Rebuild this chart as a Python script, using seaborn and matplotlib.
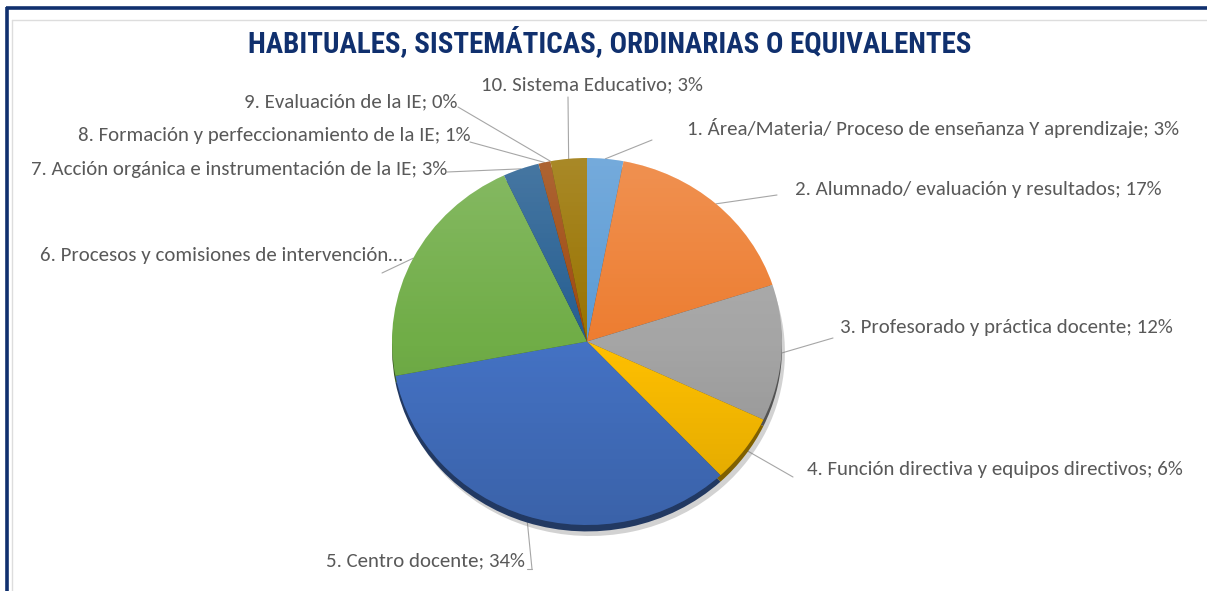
import matplotlib
matplotlib.use("Agg")
import matplotlib.pyplot as plt
import matplotlib.font_manager as fm
from matplotlib.patches import Circle
import numpy as np
import seaborn as sns

# chart data
title = "HABITUALES, SISTEMÁTICAS, ORDINARIAS O EQUIVALENTES"
categories = [
    "1. Área/Materia/ Proceso de enseñanza Y aprendizaje",
    "2. Alumnado/ evaluación y resultados",
    "3. Profesorado y práctica docente",
    "4. Función directiva y equipos directivos",
    "5. Centro docente",
    "6. Procesos y comisiones de intervención",
    "7. Acción orgánica e instrumentación de la IE",
    "8. Formación y perfeccionamiento de la IE",
    "9. Evaluación de la IE",
    "10. Sistema Educativo",
]
percent = [3, 17, 12, 6, 34, 21, 3, 1, 0, 3]
truncated = [False, False, False, False, False, True, False, False, False, False]
slice_colors = ["#5B9BD5", "#ED7D31", "#A5A5A5", "#FFC000", "#4472C4",
                "#70AD47", "#255E91", "#9E480E", "#636363", "#997300"]

# label layout in pixels (x, y, ha) and outer end of each leader line
label_pos = [(687, 128, "left"), (795, 189, "left"), (840, 327, "left"),
             (807, 470, "left"), (525, 561, "right"), (403, 255, "right"),
             (447, 170, "right"), (470, 135, "right"), (457, 102, "right"),
             (481, 85, "left")]
leader_end = [(652, 140), (777, 195), (833, 338), (793, 477), (532, 569),
              (382, 273), (447, 172), (470, 142), (458, 107), (568, 97)]

sns.set_theme(style="white")
names = {f.name for f in fm.fontManager.ttflist}
title_font = next((n for n in ["Liberation Sans Narrow", "Roboto Condensed",
                               "Open Sans Condensed", "Roboto"] if n in names), "DejaVu Sans")
label_font = next((n for n in ["Carlito", "Lato", "Open Sans"] if n in names), "DejaVu Sans")
plt.rcParams["font.family"] = [label_font, "DejaVu Sans"]

W, H = 1207, 591
fig = plt.figure(figsize=(W / 100, H / 100), dpi=100)
fig.patch.set_facecolor("white")

bg = fig.add_axes([0, 0, 1, 1])
bg.set_xlim(0, W)
bg.set_ylim(H, 0)
bg.axis("off")

# frame: navy outer edge and light inner border
bg.plot([6, W], [8, 8], color="#10306E", lw=2.6, solid_capstyle="butt")
bg.plot([7, 7], [7, H], color="#10306E", lw=2.6, solid_capstyle="butt")
bg.plot([12, W], [20, 20], color="#DDDDDD", lw=1.0)
bg.plot([12, 12], [20, H], color="#DDDDDD", lw=1.0)

# pie box in pixels
pl, pt, pr, pb = 392, 158, 782, 525
ax = fig.add_axes([pl / W, 1 - pb / H, (pr - pl) / W, (pb - pt) / H])

pal = sns.color_palette(slice_colors)
dark = [tuple(c * 0.5 for c in col) for col in pal]

# soft shadow and darker rim below the pie
shadow, _ = ax.pie(percent, startangle=90, counterclock=False, center=(0.015, -0.06),
                   colors=["#7F7F7F"] * len(percent), wedgeprops=dict(linewidth=0, alpha=0.35))
rim, _ = ax.pie(percent, startangle=90, counterclock=False, center=(0, -0.035),
                colors=dark, wedgeprops=dict(linewidth=0))
wedges, _ = ax.pie(percent, startangle=90, counterclock=False,
                   colors=pal, wedgeprops=dict(linewidth=0))
for w in shadow + rim + wedges:
    w.set_clip_on(False)

# light at the top, darker toward the bottom
t = np.linspace(0, 1, 256)[:, None]
grad = np.zeros((256, 1, 4))
grad[..., :3] = np.where(t < 0.5, 1.0, 0.0)[..., None]
grad[..., 3] = np.where(t < 0.5, 0.16 * (1 - 2 * t), 0.14 * (2 * t - 1))
im = ax.imshow(grad, extent=(-1, 1, -1, 1), aspect="auto", zorder=5)
im.set_clip_path(Circle((0, 0), 1, transform=ax.transData))

ax.set_xlim(-1, 1)
ax.set_ylim(-1, 1)
ax.set_aspect("auto")
ax.axis("off")

# labels and leader lines
to_bg = bg.transData.inverted()
texts = []
for i, (name, val) in enumerate(zip(categories, percent)):
    w = wedges[i]
    mid = np.deg2rad((w.theta1 + w.theta2) / 2)
    ax_pt = ax.transData.transform((np.cos(mid), np.sin(mid)))
    x0, y0 = to_bg.transform(ax_pt)
    x1, y1 = leader_end[i]
    bg.plot([x0, x1], [y0, y1], color="#A6A6A6", lw=0.8, zorder=1)
    if i == 4:
        bg.plot([x1, x1 - 5], [y1, y1], color="#A6A6A6", lw=0.8, zorder=1)
    shown = f"{name}…" if truncated[i] else f"{name}; {val}%"
    lx, ly, ha = label_pos[i]
    texts.append(bg.text(lx, ly, shown, ha=ha, va="center", color="#595959",
                         fontsize=13))

ttl = bg.text(610, 42, title, ha="center", va="center", color="#10306E",
              fontsize=20, fontweight="bold", family=[title_font, "DejaVu Sans"])

# fit font sizes to the reference widths
fig.canvas.draw()
r = fig.canvas.get_renderer()
scale = 489 / texts[0].get_window_extent(r).width
for tx in texts:
    tx.set_fontsize(13 * scale)
ttl.set_fontsize(20 * 724 / ttl.get_window_extent(r).width)

fig.savefig("out.png", dpi=100)
